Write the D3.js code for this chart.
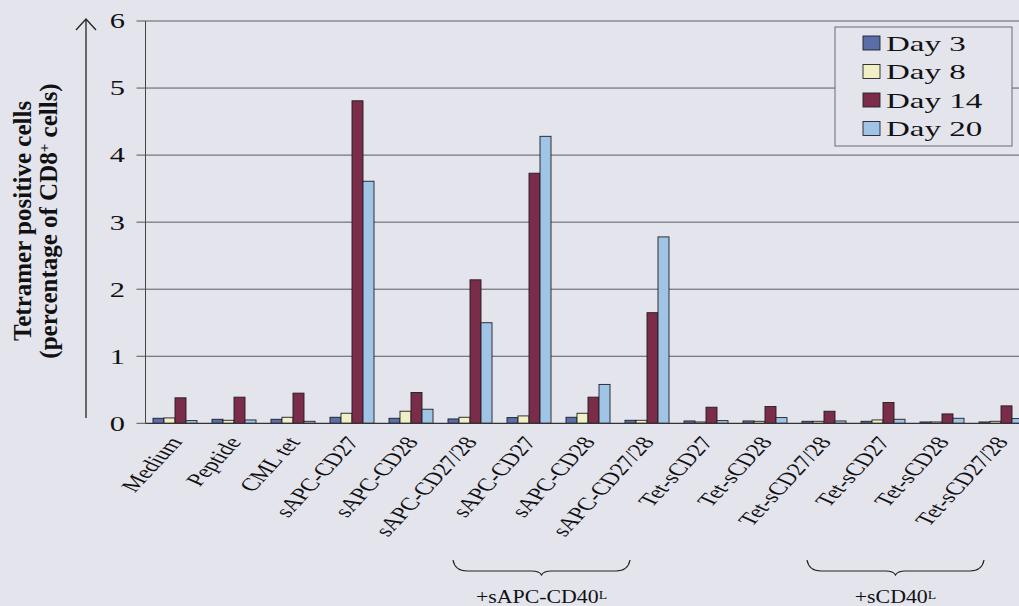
<!DOCTYPE html>
<html>
<head>
<meta charset="utf-8">
<script src="https://cdn.jsdelivr.net/npm/d3@7"></script>
<style>
  html, body { margin: 0; padding: 0; background: #e4e4ed; }
  svg { display: block; }
  text { font-family: "Liberation Serif", "Times New Roman", serif; fill: #111; }
</style>
</head>
<body>
<svg id="chart" width="1019" height="606"></svg>
<script>
// Culture conditions along the x axis (groups repeat under two stimuli)
const categories = [
  "Medium", "Peptide", "CML tet",
  "sAPC-CD27", "sAPC-CD28", "sAPC-CD27/28",
  "sAPC-CD27", "sAPC-CD28", "sAPC-CD27/28",
  "Tet-sCD27", "Tet-sCD28", "Tet-sCD27/28",
  "Tet-sCD27", "Tet-sCD28", "Tet-sCD27/28"
];
const seriesNames = ["Day 3", "Day 8", "Day 14", "Day 20"];

// Tetramer positive cells, % of CD8+ cells
const day3  = [0.075, 0.06, 0.06, 0.09, 0.075, 0.065, 0.085, 0.09, 0.045, 0.035, 0.035, 0.03, 0.03, 0.02, 0.02];
const day8  = [0.08, 0.045, 0.09, 0.15, 0.18, 0.09, 0.11, 0.15, 0.045, 0.02, 0.03, 0.03, 0.05, 0.02, 0.03];
const day14 = [0.38, 0.39, 0.45, 4.81, 0.46, 2.14, 3.73, 0.39, 1.65, 0.24, 0.25, 0.18, 0.31, 0.14, 0.26];
const day20 = [0.04, 0.05, 0.03, 3.61, 0.21, 1.50, 4.28, 0.58, 2.78, 0.04, 0.085, 0.035, 0.06, 0.075, 0.07];

const yTicks = [0, 1, 2, 3, 4, 5, 6];

// Bracketed groups under the axis labels: [first index, last index, label, superscript]
const groupSpans = [
  [6, 8, "+sAPC-CD40", "L"],
  [12, 14, "+sCD40", "L"]
];

const colors = ["#5a6ea8", "#f1efc6", "#7a2c48", "#a0c4e6"];
const series = [day3, day8, day14, day20];

const W = 1019, H = 606;
const plot = { left: 145.5, top: 21, bottom: 423.3 };
const step = 59;
const textStretch = 1.45; // wide serif lettering used throughout

const svg = d3.select("#chart");
svg.append("rect").attr("width", W).attr("height", H).attr("fill", "#e4e4ed");

const idx = d3.range(categories.length);
const x = d3.scaleBand()
  .domain(idx)
  .range([plot.left, plot.left + step * categories.length])
  .paddingInner(0.254)
  .paddingOuter(0.127);
const xDay = d3.scaleBand().domain(d3.range(seriesNames.length)).range([0, x.bandwidth()]);
const y = d3.scaleLinear().domain([0, 6]).range([plot.bottom, plot.top]);

// Horizontal grid lines
svg.append("g").selectAll("line")
  .data(yTicks.filter(t => t > 0))
  .join("line")
  .attr("x1", plot.left).attr("x2", W)
  .attr("y1", d => y(d)).attr("y2", d => y(d))
  .attr("stroke", "#5a5a62").attr("stroke-width", 1);

// Y axis: left border, short ticks and wide digits
svg.append("line")
  .attr("x1", plot.left).attr("x2", plot.left)
  .attr("y1", y(6)).attr("y2", y(0))
  .attr("stroke", "#444").attr("stroke-width", 1);
const yAxisG = svg.append("g");
yAxisG.selectAll("line.tick")
  .data(yTicks).join("line")
  .attr("class", "tick")
  .attr("x1", plot.left - 9).attr("x2", plot.left)
  .attr("y1", d => y(d)).attr("y2", d => y(d))
  .attr("stroke", "#555");
yAxisG.selectAll("text")
  .data(yTicks).join("text")
  .attr("transform", d => `translate(125,${y(d)}) scale(${textStretch},1)`)
  .attr("text-anchor", "end")
  .attr("dy", "0.35em")
  .attr("font-size", 21)
  .text(d => d);

// Bars
const groups = svg.append("g").selectAll("g")
  .data(idx).join("g")
  .attr("transform", i => `translate(${x(i)},0)`);
groups.selectAll("rect")
  .data(i => series.map((s, k) => ({ k, v: s[i] })))
  .join("rect")
  .attr("x", d => xDay(d.k))
  .attr("width", xDay.bandwidth())
  .attr("y", d => y(d.v))
  .attr("height", d => y(0) - y(d.v))
  .attr("fill", d => colors[d.k])
  .attr("stroke", "#1e1e24")
  .attr("stroke-width", 0.9);

// Baseline
svg.append("line")
  .attr("x1", plot.left).attr("x2", W)
  .attr("y1", y(0)).attr("y2", y(0))
  .attr("stroke", "#333").attr("stroke-width", 1.2);

// Category labels, slanted and widened
svg.append("g").selectAll("text")
  .data(idx).join("text")
  .attr("transform", i => `translate(${x(i) + x.bandwidth() / 2 + 8},442) scale(${textStretch},1) rotate(-57)`)
  .attr("text-anchor", "end")
  .attr("font-size", 18)
  .text(i => categories[i]);

// Vertical arrow beside the axis
svg.append("line")
  .attr("x1", 86).attr("x2", 86).attr("y1", 418).attr("y2", 19)
  .attr("stroke", "#222").attr("stroke-width", 1.3);
svg.append("path")
  .attr("d", "M76,30 L86,19 L96,30")
  .attr("fill", "none").attr("stroke", "#222").attr("stroke-width", 1.3);

// Y axis title (two lines)
const yTitle = svg.append("text")
  .attr("transform", "translate(31,221) rotate(-90)")
  .attr("text-anchor", "middle")
  .attr("font-weight", "bold")
  .attr("font-size", 25);
yTitle.append("tspan").attr("x", 0).attr("dy", 0).text("Tetramer positive cells");
const l2 = yTitle.append("tspan").attr("x", 0).attr("dy", 26);
l2.append("tspan").text("(percentage of CD8");
l2.append("tspan").attr("baseline-shift", "super").attr("font-size", 15).text("+");
l2.append("tspan").text(" cells)");

// Legend
const lg = svg.append("g");
lg.append("rect")
  .attr("x", 835).attr("y", 27).attr("width", 177).attr("height", 119)
  .attr("fill", "#e4e4ed").attr("stroke", "#6a6a72").attr("stroke-width", 1);
seriesNames.forEach((name, k) => {
  const cy = 43 + k * 28.5;
  lg.append("rect")
    .attr("x", 863).attr("y", cy - 7).attr("width", 17).attr("height", 14)
    .attr("fill", colors[k]).attr("stroke", "#222").attr("stroke-width", 0.9);
  lg.append("text")
    .attr("transform", `translate(886,${cy}) scale(1.5,1)`)
    .attr("dy", "0.35em")
    .attr("font-size", 22)
    .text(name);
});

// Braces grouping the stimulated conditions
groupSpans.forEach(([a, b, label, sup]) => {
  const x0 = x(a) + x.bandwidth() / 2 - 76;
  const x1 = x(b) + x.bandwidth() / 2 - 17;
  const xm = (x0 + x1) / 2;
  const yt = 560, yl = 571, yb = 575;
  svg.append("path")
    .attr("d", `M${x0},${yt} Q${x0 + 2},${yl} ${x0 + 14},${yl} L${xm - 10},${yl} Q${xm - 2},${yl} ${xm},${yb} Q${xm + 2},${yl} ${xm + 10},${yl} L${x1 - 14},${yl} Q${x1 - 2},${yl} ${x1},${yt}`)
    .attr("fill", "none").attr("stroke", "#222").attr("stroke-width", 1.2);
  const t = svg.append("text")
    .attr("transform", `translate(${xm},603) scale(1.15,1)`)
    .attr("text-anchor", "middle")
    .attr("font-size", 19);
  t.append("tspan").text(label);
  t.append("tspan").attr("baseline-shift", "30%").attr("font-size", 12).text(sup);
});
</script>
</body>
</html>
